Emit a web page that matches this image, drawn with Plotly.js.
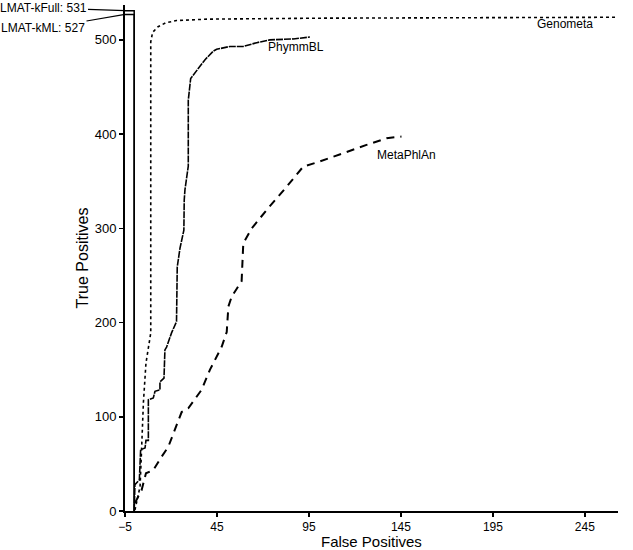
<!DOCTYPE html>
<html>
<head>
<meta charset="utf-8">
<script src="https://cdn.plot.ly/plotly-3.0.1.min.js"></script>
<style>
  body { margin: 0; background: #fff; }
  #plotArea { width: 633px; height: 550px; }
</style>
</head>
<body>
<div id="plotArea"></div>
<script>
// curves
var genometaX = [0.4, 3.2, 4, 4.6, 5, 6.4, 8.2, 9, 9, 10, 13, 17, 23, 40, 100, 200, 263];
var genometaY = [1, 26, 65, 97, 115, 157, 178, 189, 498, 508, 514, 518, 520.5, 522, 523, 524, 524];

var phymmX = [0, 0.4, 2.8, 3.5, 5.9, 6.4, 7.7, 7.7, 10.4, 11.3, 14, 14, 16.2, 16.7, 17.6, 20.3, 23, 23.4, 24.9, 27, 27.2, 27.6, 29.4, 29.4, 30.7, 34, 38.5, 43, 44.8, 52, 59.3, 66.6, 73.8, 86.5, 95.5];
var phymmY = [0, 28, 33, 65, 67, 75, 75, 118, 120, 127, 128.5, 137, 141, 171, 174, 189, 201, 259, 279, 298, 330, 341, 366, 436, 459, 468, 479, 488, 490, 493, 493, 497, 500, 501, 503];

var metaX = [0.4, 4, 6.4, 10.4, 14.9, 18.5, 25.8, 29.4, 36.6, 41.2, 47.5, 50.3, 51.2, 53, 58.4, 59.3, 63.9, 72, 82.8, 91.9, 101, 113.6, 126.3, 137.2, 145.3];
var metaY = [8.5, 22, 40, 43.5, 57.6, 68, 105, 109, 128.5, 150, 174, 190, 217, 227.5, 244, 284, 300, 319.5, 344, 365.5, 371, 380, 388.5, 395.6, 397.4];

var lmatNames = ["LMAT-kFull", "LMAT-kML"];
var lmatTP = [531, 527];
var lmatFP = [0, 0];

var lineCol = "#000";

var traces = [
  {x: genometaX, y: genometaY, mode: "lines", name: "Genometa",
   line: {color: lineCol, width: 1.6, dash: "dot"}},
  {x: phymmX, y: phymmY, mode: "lines", name: "PhymmBL",
   line: {color: lineCol, width: 1.6, dash: "7px,1px"}},
  {x: metaX, y: metaY, mode: "lines", name: "MetaPhlAn",
   line: {color: lineCol, width: 2, dash: "8px,6px"}}
];

lmatNames.forEach(function(n, i) {
  traces.push({x: [-5, lmatFP[i], lmatFP[i]], y: [lmatTP[i], lmatTP[i], 0],
    mode: "lines", name: n, line: {color: lineCol, width: 1.5}});
});

var font = {family: "Liberation Sans, Arial, sans-serif", color: "#000"};

var layout = {
  width: 633, height: 550,
  margin: {l: 125, r: 15, t: 5, b: 39},
  showlegend: false,
  paper_bgcolor: "#fff", plot_bgcolor: "#fff",
  font: {family: font.family, size: 13, color: "#000"},
  xaxis: {
    range: [-5, 263], tick0: -5, dtick: 50, showgrid: false, zeroline: false,
    showline: true, linecolor: "#000", linewidth: 2, ticks: "outside", ticklen: 4,
    tickcolor: "#000", tickwidth: 1.5, tickfont: {size: 12}
  },
  yaxis: {
    range: [0, 537], dtick: 100, showgrid: false, zeroline: false,
    showline: true, linecolor: "#000", linewidth: 2, ticks: "outside", ticklen: 4,
    tickcolor: "#000", tickwidth: 1.5,
    title: {text: "True Positives", font: {size: 16}, standoff: 2}
  },
  annotations: [
    {xref: "paper", yref: "paper", x: 0.5, y: -0.061, text: "False Positives", showarrow: false,
     xanchor: "center", yanchor: "middle", font: {size: 15}},
    {x: 88, y: 503, text: "PhymmBL", showarrow: false, xanchor: "center", yanchor: "top", yshift: -1, font: {size: 12}},
    {x: 148, y: 397, text: "MetaPhlAn", showarrow: false, xanchor: "center", yanchor: "top", yshift: -9, font: {size: 12}},
    {x: 234, y: 524, text: "Genometa", showarrow: false, xanchor: "center", yanchor: "top", yshift: 2, font: {size: 12}},
    {x: -5, y: lmatTP[0], text: lmatNames[0] + ": " + lmatTP[0], showarrow: true, arrowhead: 0, arrowwidth: 1.2,
     arrowcolor: "#000", ax: -82, ay: -3, xanchor: "center", font: {size: 12}},
    {x: -5, y: lmatTP[1], text: lmatNames[1] + ": " + lmatTP[1], showarrow: true, arrowhead: 0, arrowwidth: 1.2,
     arrowcolor: "#000", ax: -82, ay: 14, xanchor: "center", font: {size: 12}}
  ]
};

Plotly.newPlot("plotArea", traces, layout, {staticPlot: true});
</script>
</body>
</html>
